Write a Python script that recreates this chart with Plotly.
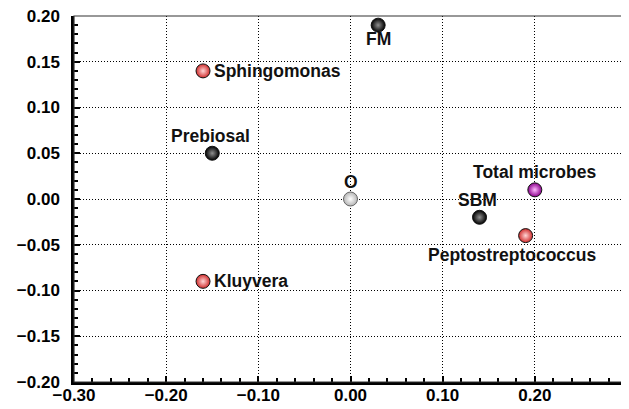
import plotly.graph_objects as go

names = ["FM", "Sphingomonas", "Prebiosal", "O", "SBM", "Total microbes", "Peptostreptococcus", "Kluyvera"]
x_vals = [0.03, -0.16, -0.15, 0.00, 0.14, 0.20, 0.19, -0.16]
y_vals = [0.19, 0.14, 0.05, 0.00, -0.02, 0.01, -0.04, -0.09]
edge_colors = ["#000000", "#d02c2c", "#000000", "#b5b5b5", "#000000", "#8b008b", "#d02c2c", "#d02c2c"]
center_colors = ["#909090", "#ffd6d6", "#909090", "#ffffff", "#909090", "#ffb8ff", "#ffd6d6", "#ffd6d6"]
# label placement (style): anchor and pixel offsets
lab_anchor = ["center", "left", "center", "center", "center", "center", "center", "left"]
lab_dx = [0, 9, -2, 0, -2, 0, -13, 9]
lab_dy = [-14, 0, 17, 17, 17, 18, -19, 0]

x_ticks = [-0.30, -0.20, -0.10, 0.00, 0.10, 0.20]
x_ticklabels = ["\u22120.30", "\u22120.20", "\u22120.10", "0.00", "0.10", "0.20"]
y_ticks = [-0.20, -0.15, -0.10, -0.05, 0.00, 0.05, 0.10, 0.15, 0.20]
y_ticklabels = ["\u22120.20", "\u22120.15", "\u22120.10", "\u22120.05", "0.00", "0.05", "0.10", "0.15", "0.20"]

FONT = "Liberation Sans, Arial"

fig = go.Figure()
for i in range(len(names)):
    fig.add_trace(go.Scatter(
        x=[x_vals[i]], y=[y_vals[i]], mode="markers",
        marker=dict(size=14, color=edge_colors[i],
                    gradient=dict(type="radial", color=center_colors[i]),
                    line=dict(color="#111" if i != 3 else "#666", width=1)),
        showlegend=False, cliponaxis=False,
    ))
    fig.add_annotation(x=x_vals[i], y=y_vals[i], text="<b>" + names[i] + "</b>",
                       showarrow=False, xanchor=lab_anchor[i], yanchor="middle",
                       xshift=lab_dx[i], yshift=lab_dy[i],
                       font=dict(family=FONT, size=17.5, color="#111"))

axis_common = dict(
    showline=True, linecolor="black", linewidth=2.5,
    ticks="inside", ticklen=6, tickcolor="black", tickwidth=1.5,
    showgrid=True, gridcolor="black", gridwidth=1, griddash="1px,2px",
    zeroline=False, layer="above traces", automargin=False,
    ticklabeloverflow="allow",
    tickfont=dict(family=FONT, size=17, color="black"),
)

fig.update_xaxes(range=[-0.30, 0.30], tickvals=x_ticks, ticktext=["<b>" + t + "</b>" for t in x_ticklabels],
                 minor=dict(dtick=0.02, tick0=0, ticks="inside", ticklen=4, tickcolor="black", showgrid=False),
                 ticklabelstandoff=-4, **axis_common)
fig.update_yaxes(range=[-0.20, 0.20], tickvals=y_ticks, ticktext=["<b>" + t + "</b>" for t in y_ticklabels],
                 minor=dict(dtick=0.01, tick0=0, ticks="inside", ticklen=4, tickcolor="black", showgrid=False),
                 ticklabelstandoff=8, **axis_common)

fig.add_shape(type="rect", xref="paper", yref="paper", x0=0, y0=0, x1=1, y1=1,
              line=dict(color="#333", width=1.2), layer="above")

fig.update_layout(
    width=629, height=409,
    margin=dict(l=66, r=10, t=8, b=35),
    paper_bgcolor="white", plot_bgcolor="white",
    font=dict(family=FONT, size=14, color="black"),
)

fig.write_html("out.html")
